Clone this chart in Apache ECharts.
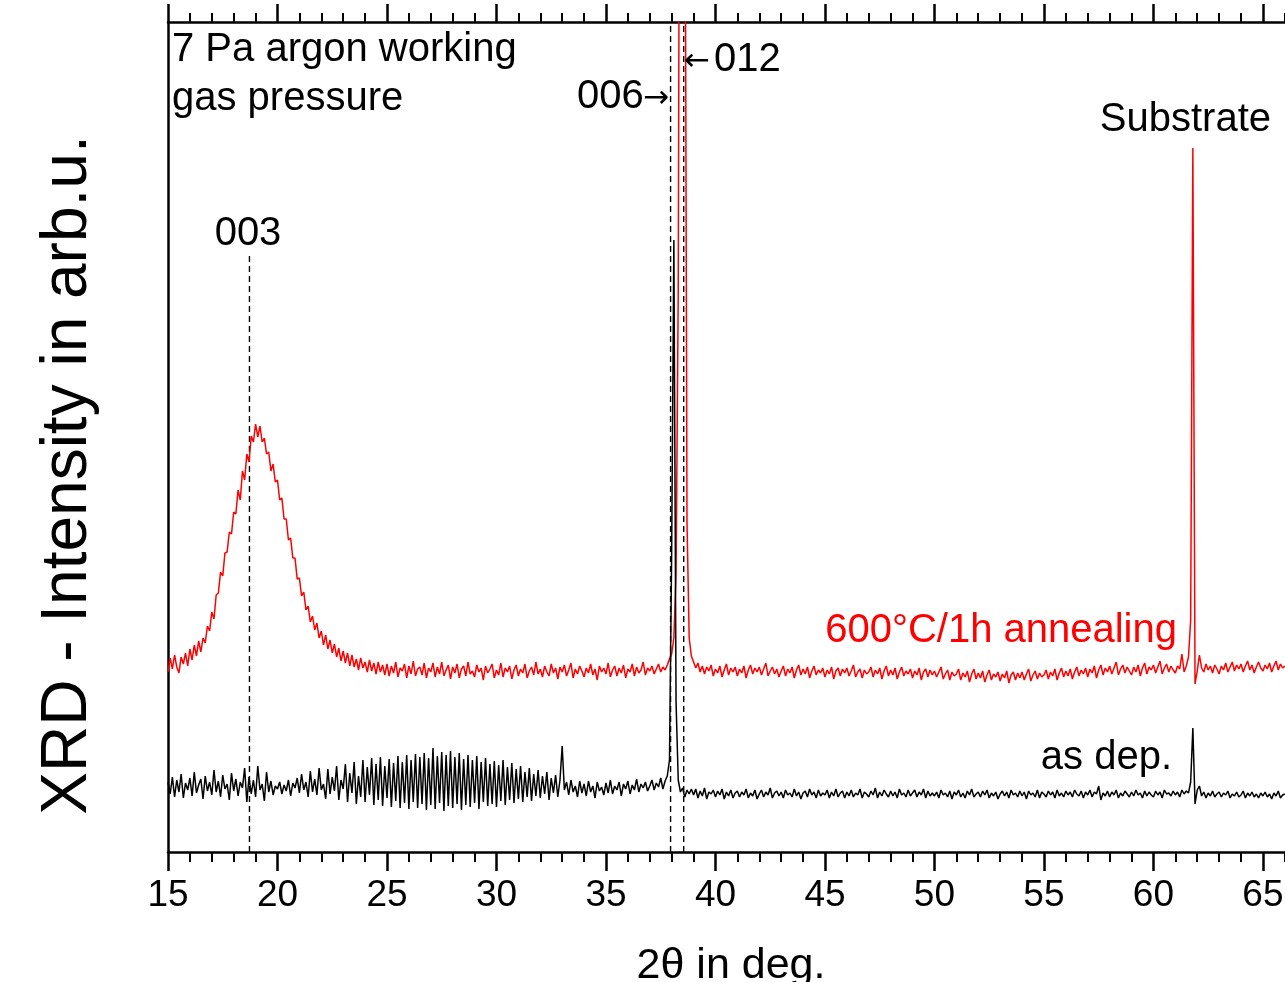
<!DOCTYPE html>
<html>
<head>
<meta charset="utf-8">
<script src="https://cdn.jsdelivr.net/npm/echarts@6/dist/echarts.min.js"></script>
<style>
  html, body { margin: 0; padding: 0; background: #fff; overflow: hidden; }
  #chart { width: 1396px; height: 982px; }
</style>
</head>
<body>
<div id="chart"></div>
<script>
// 2θ grid (deg): first value and step of the scan
const twoThetaStart = 15.0;
const twoThetaStep = 0.1;

// Intensities (arb.u.), one row per degree (x.0 ... x.9)
const annealed600 = [
  180,194,183,197,185,179,195,188,199,186, // 15
  203,192,207,196,211,200,214,209,226,221, // 16
  240,233,257,259,280,276,299,300,320,318, // 17
  340,338,362,352,381,372,398,390,416,410, // 18
  428,415,426,410,414,398,400,381,388,370, // 19
  372,352,354,333,333,312,314,294,294,273, // 20
  274,256,260,242,246,230,236,222,229,214, // 21
  221,207,217,203,212,199,208,195,204,191, // 22
  201,189,199,186,197,185,193,182,194,184, // 23
  190,180,192,181,189,178,190,180,187,177, // 24
  188,176,186,179,190,175,184,181,188,174, // 25
  186,178,191,176,183,185,177,189,174,184, // 26
  180,189,175,185,178,190,176,182,187,173, // 27
  185,179,188,174,183,186,176,190,178,181, // 28
  175,187,180,184,172,186,179,183,188,174, // 29
  182,177,189,175,184,180,186,173,182,187, // 30
  176,183,179,188,174,181,185,177,190,178, // 31
  183,175,186,180,176,188,179,184,173,185, // 32
  180,187,176,182,189,174,183,178,186,181, // 33
  175,184,179,188,177,183,172,186,180,184, // 34
  178,189,175,182,186,176,184,179,187,174, // 35
  183,180,188,176,185,179,182,190,177,184, // 36
  181,186,178,183,188,180,185,182,187,193, // 37
  198,214,278,560,1400,2000,1100,330,214,196, // 38
  190,184,189,180,186,178,185,181,187,176, // 39
  183,179,186,175,182,188,177,184,180,185, // 40
  176,183,179,186,174,182,187,178,184,180, // 41
  185,177,183,189,176,181,185,178,183,175, // 42
  181,186,176,183,179,185,174,182,187,177, // 43
  183,178,185,174,181,186,177,182,179,184, // 44
  175,182,178,185,173,181,184,176,183,179, // 45
  184,176,181,187,175,180,183,174,182,178, // 46
  180,185,175,182,178,184,173,181,186,176, // 47
  182,177,184,173,180,185,176,181,178,183, // 48
  174,181,177,184,172,180,183,175,182,177, // 49
  181,175,180,185,173,178,182,172,180,176, // 50
  178,183,172,179,175,181,170,178,183,173, // 51
  179,174,181,170,177,182,172,178,175,180, // 52
  171,178,174,181,169,177,180,172,179,174, // 53
  180,172,178,183,171,177,181,173,179,175, // 54
  177,182,173,180,176,183,172,179,184,175, // 55
  181,176,183,173,180,185,176,182,178,184, // 56
  175,183,179,186,174,182,187,177,184,180, // 57
  186,178,184,190,177,183,187,179,185,181, // 58
  177,185,180,187,176,184,189,178,185,182, // 59
  187,179,185,191,178,184,188,180,186,182, // 60
  179,186,183,198,180,186,195,232,704,168, // 61
  181,197,184,180,188,182,186,179,187,183, // 62
  178,186,182,189,180,185,190,181,187,183, // 63
  188,180,186,191,182,187,179,185,190,184, // 64
  181,187,183,189,180,186,191,182,188,184, // 65
  186                                      // 66
];

const asDeposited = [
  70,58,75,55,72,60,78,54,69,62, // 15
  74,56,80,59,67,73,53,76,61,70, // 16
  57,82,60,71,55,77,63,68,52,79, // 17
  61,73,56,70,64,84,50,75,58,72, // 18
  55,86,62,68,51,80,60,71,57,66, // 19
  63,70,58,67,61,72,56,69,64,74, // 20
  59,78,62,70,55,81,60,73,57,84, // 21
  62,68,53,83,58,75,61,86,52,72, // 22
  63,88,50,79,59,90,48,76,55,92, // 23
  50,85,57,94,47,88,52,95,46,86, // 24
  54,93,45,89,51,96,44,90,49,97, // 25
  43,92,50,98,44,95,48,99,42,94, // 26
  47,104,43,96,49,100,41,97,46,101, // 27
  44,95,48,99,42,93,47,97,45,92, // 28
  49,96,43,90,50,94,46,88,48,91, // 29
  45,87,51,92,47,85,52,89,49,83, // 30
  53,86,50,80,55,84,51,78,56,82, // 31
  54,76,58,80,52,74,59,77,55,72, // 32
  106,62,70,57,72,60,66,55,71,59, // 33
  68,56,71,60,66,54,70,61,65,57, // 34
  69,59,72,58,66,62,70,56,68,63, // 35
  71,58,67,62,73,60,68,64,70,61, // 36
  66,72,62,69,65,74,63,71,76,92, // 37
  300,612,150,72,60,64,55,62,58,63, // 38
  57,63,54,61,56,64,53,60,58,62, // 39
  55,61,57,63,53,60,56,62,54,59, // 40
  61,55,60,57,63,54,59,56,62,53, // 41
  58,62,55,60,57,64,54,59,61,56, // 42
  60,54,62,57,59,55,63,56,60,53, // 43
  59,61,55,63,57,60,54,62,56,59, // 44
  57,62,54,60,56,63,55,59,61,54, // 45
  60,56,62,55,59,57,63,54,60,58, // 46
  55,61,57,64,54,60,56,62,58,55, // 47
  61,56,60,54,63,57,59,55,62,56, // 48
  59,62,55,60,57,63,54,61,56,59, // 49
  56,60,54,62,57,59,55,61,53,60, // 50
  57,62,55,59,54,61,57,63,55,58, // 51
  60,55,61,57,62,54,59,56,60,53, // 52
  58,61,56,60,54,62,57,59,55,61, // 53
  56,60,53,61,57,59,55,62,54,60, // 54
  58,55,61,57,60,54,62,56,59,55, // 55
  61,57,60,55,62,58,56,61,54,60, // 56
  57,62,55,60,58,66,52,59,56,61, // 57
  55,60,57,62,54,59,56,61,58,55, // 58
  60,56,62,57,59,54,61,56,60,57, // 59
  55,61,57,60,54,62,58,59,56,61, // 60
  57,60,55,62,58,61,59,70,124,48, // 61
  62,66,56,60,54,59,56,61,55,58, // 62
  60,55,59,57,61,54,58,56,60,55, // 63
  57,61,54,59,56,60,55,58,54,59, // 64
  56,60,55,58,53,59,56,61,54,57, // 65
  58                             // 66
];

// Reflection marker lines: 2θ position and vertical extent (arb.u.)
const peakPositions = [18.72, 37.95, 38.55];
const peakLineTop = [600, 830, 830];

// Axis ticks
const xMin = 15, xMax = 70, xInterval = 5;
const yMin = 0, yMax = 830;

const FONT = 'Liberation Sans, Arial, Helvetica, sans-serif';

function toPairs(values) {
  return values.map((v, i) => [Math.round((twoThetaStart + i * twoThetaStep) * 100) / 100, v]);
}

const chart = echarts.init(document.getElementById('chart'), null, { renderer: 'canvas', width: 1396, height: 982 });

const axisLine = { show: true, onZero: false, lineStyle: { color: '#000', width: 2.5 } };

const series = [];
peakPositions.forEach((p, k) => {
  series.push({
    type: 'line', xAxisIndex: 0, yAxisIndex: 0, symbol: 'none', silent: true,
    data: [[p, yMin], [p, peakLineTop[k]]],
    lineStyle: { color: '#000', width: 1.4, type: [6, 4] }, z: 1
  });
});
series.push({
  name: '600°C/1h annealing', type: 'line', symbol: 'none', silent: true,
  data: toPairs(annealed600), lineStyle: { color: '#ff0000', width: 1.5 }, z: 2
});
series.push({
  name: 'as dep.', type: 'line', symbol: 'none', silent: true,
  data: toPairs(asDeposited), lineStyle: { color: '#000', width: 1.5 }, z: 3
});

function txt(text, x, y, opts) {
  return {
    type: 'text', x: x, y: y, silent: true, z: 10,
    rotation: (opts && opts.rotation) || 0,
    style: Object.assign({
      text: text, fill: '#000', font: '40px ' + FONT,
      textAlign: 'left', textVerticalAlign: 'middle'
    }, opts && opts.style)
  };
}

const arrowFont = '31px DejaVu Sans, sans-serif';

chart.setOption({
  animation: false,
  backgroundColor: '#fff',
  grid: { left: 168, top: 22, bottom: 130, right: 8, containLabel: false },
  xAxis: [
    {
      type: 'value', position: 'bottom', min: xMin, max: xMax, interval: xInterval,
      axisLine: axisLine,
      axisTick: { show: true, inside: false, length: 19, lineStyle: { color: '#000', width: 2.5 } },
      minorTick: { show: true, splitNumber: 5, length: 10, lineStyle: { color: '#000', width: 2 } },
      axisLabel: { show: true, color: '#000', fontSize: 37, fontFamily: FONT, margin: 25 },
      splitLine: { show: false }, minorSplitLine: { show: false }
    },
    {
      type: 'value', position: 'top', min: xMin, max: xMax, interval: xInterval,
      axisLine: axisLine,
      axisTick: { show: true, inside: false, length: 18, lineStyle: { color: '#000', width: 2.5 } },
      minorTick: { show: true, splitNumber: 5, length: 9, lineStyle: { color: '#000', width: 2 } },
      axisLabel: { show: false },
      splitLine: { show: false }, minorSplitLine: { show: false }
    }
  ],
  yAxis: {
    type: 'value', min: yMin, max: yMax,
    axisLine: axisLine, axisTick: { show: false }, axisLabel: { show: false },
    splitLine: { show: false }
  },
  series: series,
  graphic: [
    txt('7 Pa argon working', 172, 50),
    txt('gas pressure', 172, 99),
    txt('006', 577, 97),
    txt('\u2192', 643, 99, { style: { font: arrowFont } }),
    txt('\u2190', 684, 62, { style: { font: arrowFont } }),
    txt('012', 714, 60),
    txt('003', 248, 234, { style: { textAlign: 'center' } }),
    txt('Substrate', 1271, 120, { style: { textAlign: 'right' } }),
    txt('600°C/1h annealing', 1177, 631, { style: { textAlign: 'right', fill: '#ff0000' } }),
    txt('as dep.', 1172, 758, { style: { textAlign: 'right' } }),
    txt('2\u03b8 in deg.', 731, 966, { style: { textAlign: 'center', font: '43px ' + FONT } }),
    txt('XRD - Intensity in arb.u.', 68, 475, {
      rotation: Math.PI / 2,
      style: { textAlign: 'center', font: '64px ' + FONT }
    })
  ]
});
</script>
</body>
</html>
